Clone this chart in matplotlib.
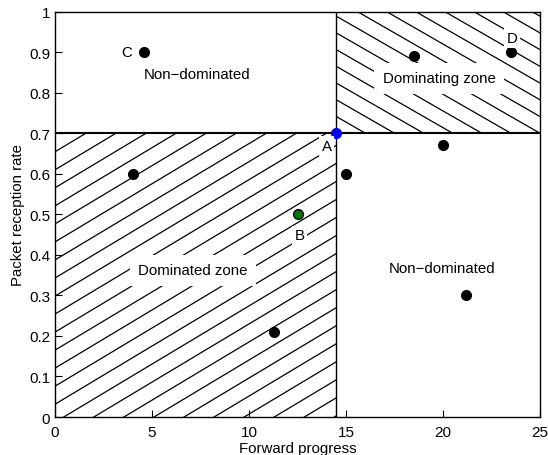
import numpy as np
import matplotlib.pyplot as plt
from matplotlib.patches import Rectangle

plt.rcParams['font.family'] = ['Liberation Sans', 'DejaVu Sans']

# reference point A and zone boundary
ax_x, ax_y = 14.5, 0.7
# other candidate nodes
px = [4.6, 4.0, 15.0, 18.5, 23.5, 20.0, 21.2, 11.3]
py = [0.90, 0.60, 0.60, 0.89, 0.90, 0.67, 0.30, 0.21]
b_x, b_y = 12.5, 0.50

fig = plt.figure(figsize=(5.48, 4.56), dpi=100)
ax = fig.add_axes([0.1004, 0.0833, 0.885, 0.889])
ax.set_xlim(0, 25)
ax.set_ylim(0, 1)


def hatch(ax, x0, y0, w, h, slope, step):
    # slanted lines clipped to a rectangle (slope in data units)
    rect = Rectangle((x0, y0), w, h, fill=False, edgecolor='none')
    ax.add_patch(rect)
    xs = np.array([x0 - 30, x0 + w + 30])
    for c in np.arange(-60, 60, step):
        ln, = ax.plot(xs, y0 + slope * (xs - x0 - c), color='k', lw=0.9)
        ln.set_clip_path(rect)


hatch(ax, 0, 0, ax_x, ax_y, 0.0287, 1.55)
hatch(ax, ax_x, ax_y, 25 - ax_x, 1 - ax_y, -0.0275, 1.5)

ax.axhline(ax_y, color='k', lw=1.5)
ax.axvline(ax_x, color='k', lw=1.0)

ax.plot(px, py, 'o', color='k', ms=7)
ax.plot([b_x], [b_y], 'o', mfc='green', mec='k', ms=7)
ax.plot([ax_x], [ax_y], 'o', mfc='blue', mec='blue', ms=7)

fs = 10.8
box = dict(facecolor='white', edgecolor='none', pad=2)
ax.text(7.3, 0.846, 'Non\u2212dominated', ha='center', va='center', fontsize=fs)
ax.text(19.8, 0.836, 'Dominating zone', ha='center', va='center', fontsize=fs, bbox=dict(facecolor='white', edgecolor='none', pad=6))
ax.text(7.1, 0.362, 'Dominated zone', ha='center', va='center', fontsize=fs, bbox=dict(facecolor='white', edgecolor='none', pad=6))
ax.text(19.95, 0.367, 'Non\u2212dominated', ha='center', va='center', fontsize=fs)
ax.text(3.7, 0.9, 'C', ha='center', va='center', fontsize=fs)
ax.text(23.55, 0.935, 'D', ha='center', va='center', fontsize=fs, bbox=box)
ax.text(14.0, 0.668, 'A', ha='center', va='center', fontsize=fs, bbox=box)
ax.text(12.6, 0.448, 'B', ha='center', va='center', fontsize=fs, bbox=box)

ax.set_xticks([0, 5, 10, 15, 20, 25])
ax.set_yticks(np.arange(0, 1.01, 0.1))
ax.set_yticklabels(['0', '0.1', '0.2', '0.3', '0.4', '0.5', '0.6', '0.7', '0.8', '0.9', '1'])
ax.tick_params(direction='in', length=5, labelsize=11, top=False, right=False)
ax.tick_params(axis='x', pad=6)
ax.set_xlabel('Forward progress', fontsize=fs, labelpad=1)
ax.set_ylabel('Packet reception rate', fontsize=fs, labelpad=3)
for s in ax.spines.values():
    s.set_linewidth(1.0)

fig.savefig('out.png', dpi=100)
